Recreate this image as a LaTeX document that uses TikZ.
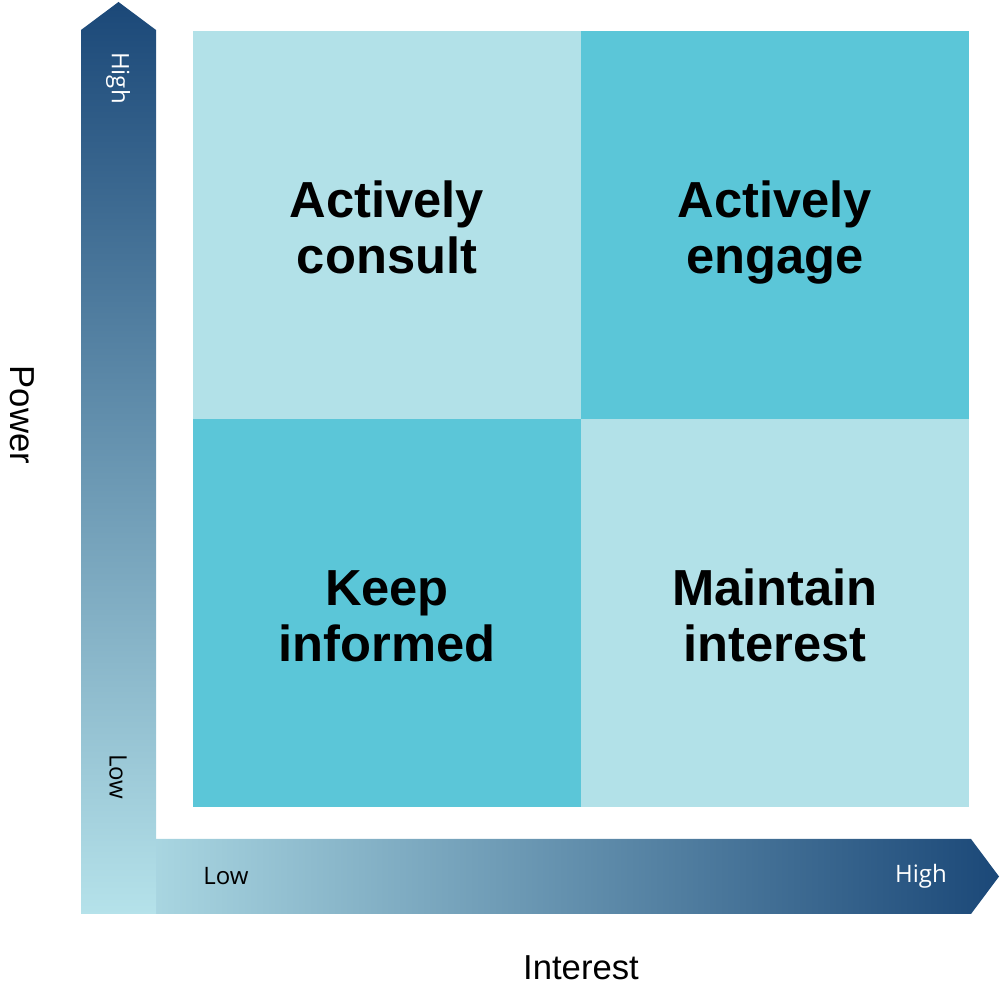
\documentclass[tikz,border=0pt]{standalone}
\usepackage{fontspec}
\setmainfont{Liberation Sans}
\newfontfamily\tickfont{Open Sans}
\usetikzlibrary{positioning}
\definecolor{qlight}{HTML}{B2E1E8}
\definecolor{qdark}{HTML}{5BC6D8}
\definecolor{axlight}{HTML}{B5E2EA}
\definecolor{axdark}{HTML}{1B4878}
\tikzset{
  quad/.style={rectangle,minimum width=290.6pt,minimum height=290.6pt,inner sep=0pt,align=center,
    text height=73.5pt,text depth=0pt,font=\fontsize{38}{42}\selectfont\bfseries},
  axlabel/.style={inner sep=0pt,font=\fontsize{26}{30}\selectfont},
  ticklabel/.style={inner sep=0pt,font=\tickfont\fontsize{18}{20}\selectfont},
}

\begin{document}
\begin{tikzpicture}[x=0.75pt,y=0.75pt,node distance=0pt]
  \useasboundingbox (0,0) rectangle (1000,992);
  % axis arrows
  \shade[left color=axlight,right color=axdark] (81,78) -- (971,78) -- (999,115.5) -- (971,153) -- (81,153) -- cycle;
  \shade[bottom color=axlight,top color=axdark] (81,78) -- (156,78) -- (156,962) -- (118.5,990) -- (81,962) -- cycle;
  % quadrants
  \node[quad,fill=qlight,anchor=north west] (consult) at (193,961) {Actively\\consult};
  \node[quad,fill=qdark,right=of consult] (engage) {Actively\\engage};
  \node[quad,fill=qdark,below=of consult] (inform) {Keep\\informed};
  \node[quad,fill=qlight,right=of inform] (maintain) {Maintain\\interest};
  % axis labels
  \node[axlabel,rotate=-90] (power) at (22,577) {Power};
  \node[axlabel] (interest) at (581,24) {Interest};
  \node[ticklabel,rotate=-90,text=white] (phigh) at (118,914) {High};
  \node[ticklabel,rotate=-90] (plow) at (118,215) {Low};
  \node[ticklabel] (ilow) at (226,116) {Low};
  \node[ticklabel,text=white] (ihigh) at (921,116) {High};
\end{tikzpicture}
\end{document}
